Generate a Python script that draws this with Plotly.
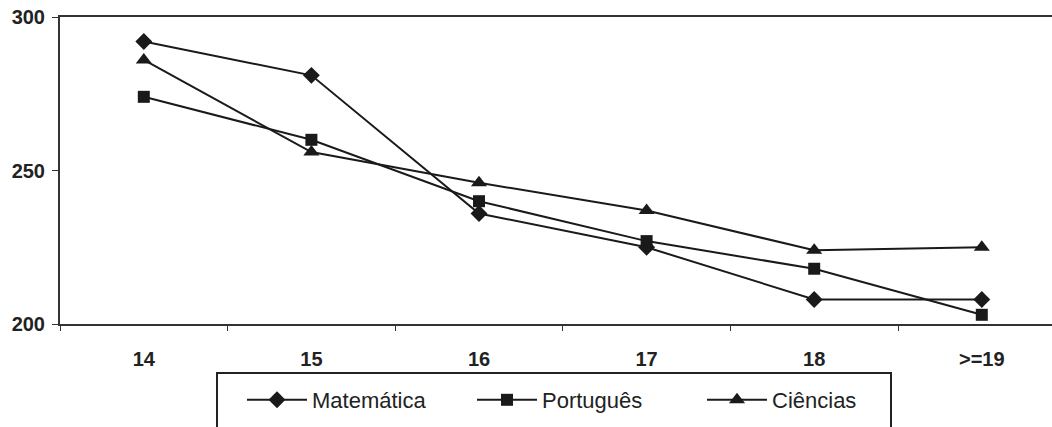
import plotly.graph_objects as go

categories = ["14", "15", "16", "17", "18", ">=19"]
matematica = [292, 281, 236, 225, 208, 208]
portugues = [274, 260, 240, 227, 218, 203]
ciencias = [286, 256, 246, 237, 224, 225]
y_ticks = [200, 250, 300]

# body margin removed via post_script, so figure sits at (0, 0)
W, H = 1052, 427
L, R, T, B = 60, 0, 17, 427 - 324
pw, ph = W - L - R, H - T - B

def px_x(p):
    return (p - L) / pw

def px_y(p):
    return (H - B - p) / ph

line_col = "#1a1a1a"
fig = go.Figure()
series = [
    ("Matemática", matematica, "diamond", 13),
    ("Português", portugues, "square", 12),
    ("Ciências", ciencias, "triangle-up", 14),
]
for name, vals, sym, sz in series:
    fig.add_trace(go.Scatter(
        x=categories, y=vals, name=name, mode="lines+markers",
        line=dict(color=line_col, width=2),
        marker=dict(symbol=sym, size=sz, color=line_col),
    ))

span = pw / 167.6
fig.update_xaxes(
    type="category", range=[-0.5, -0.5 + span],
    showline=True, linecolor="#333", linewidth=2, mirror=True,
    showgrid=False, zeroline=False,
    ticks="outside", tickson="boundaries", ticklen=5, tickcolor="#333",
    tickfont=dict(family="Liberation Sans, Arial", size=20, color="#222", weight="bold"),
    ticklabelstandoff=16,
)
fig.update_yaxes(
    range=[200, 300], tickvals=y_ticks,
    showline=True, linecolor="#333", linewidth=2,
    showgrid=False, zeroline=False, automargin=False,
    ticks="outside", ticklen=6, tickcolor="#333",
    tickfont=dict(family="Liberation Sans, Arial", size=20, color="#222", weight="bold"),
    ticklabelstandoff=3, ticklabeloverflow="allow",
)

fig.add_shape(type="rect", xref="paper", yref="paper",
              x0=px_x(217), x1=px_x(891), y0=px_y(440), y1=px_y(373),
              line=dict(color="#222", width=2), fillcolor="rgba(0,0,0,0)")

fig.update_layout(
    width=W, height=H,
    margin=dict(l=L, r=R, t=T, b=B, pad=0, autoexpand=False),
    paper_bgcolor="white", plot_bgcolor="white",
    showlegend=True,
    legend=dict(
        orientation="h", x=px_x(242), xanchor="left",
        y=px_y(400), yanchor="middle",
        bgcolor="rgba(0,0,0,0)", borderwidth=0,
        font=dict(family="Liberation Sans, Arial", size=22, color="#222"),
        entrywidth=155, entrywidthmode="pixels",
        itemwidth=60,
    ),
)

fig.write_html("out.html", config={"displayModeBar": False},
               post_script="document.body.style.margin='0';")
